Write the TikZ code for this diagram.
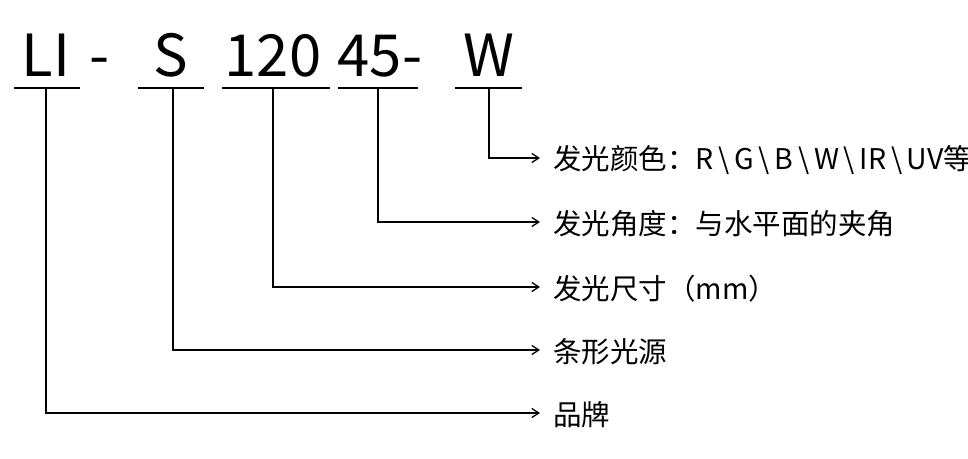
\documentclass[tikz,border=0pt]{standalone}
\usepackage{fontspec}
\setmainfont{Noto Sans CJK SC}
\usetikzlibrary{arrows.meta}
\begin{document}
\begin{tikzpicture}[x=1pt,y=-1pt,
  ln/.style={line width=1.3pt,black},
  arr/.style={ln,-{Straight Barb[length=7pt,width=9pt]}},
  lab/.style={anchor=west,inner sep=0pt,font=\fontsize{28.5}{28.5}\selectfont},
  big/.style={anchor=base,inner sep=0pt,font=\fontsize{58}{58}\selectfont}]
\useasboundingbox (0,0) rectangle (968,458);
\node[big] (t1) at (46,76) {LI};
\node[big] (t2) at (100,76) {-};
\node[big] (t3) at (171,76) {S};
\node[big] (t4) at (273,76) {120};
\node[big] (t5) at (380,76) {45-};
\node[big] (t6) at (489,76) {W};
\foreach \a/\b in {14/80,138/204,222/330,338/418,455/522}
  \draw[ln] (\a,88) -- (\b,88);
\coordinate (c1) at (46,88); \coordinate (c2) at (173,88); \coordinate (c3) at (273,88);
\coordinate (c4) at (378,88); \coordinate (c5) at (489,88);
\node[lab] (l5) at (553,160) {发光颜色：R\,\textbackslash\,G\,\textbackslash\,B\,\textbackslash\,W\,\textbackslash\,IR\,\textbackslash\,UV等};
\node[lab] (l4) at (553,224) {发光角度：与水平面的夹角};
\node[lab] (l3) at (553,289) {发光尺寸（mm）};
\node[lab] (l2) at (553,352) {条形光源};
\node[lab] (l1) at (553,415) {品牌};
\draw[arr] (c5) |- (540,158);
\draw[arr] (c4) |- (540,222);
\draw[arr] (c3) |- (540,287);
\draw[arr] (c2) |- (540,350);
\draw[arr] (c1) |- (540,413);
\end{tikzpicture}
\end{document}
